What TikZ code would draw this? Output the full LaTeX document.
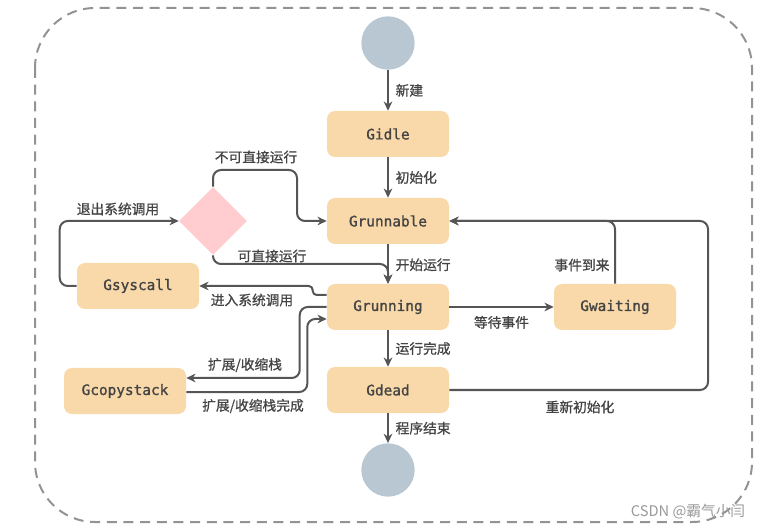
\documentclass[tikz,border=0pt]{standalone}
\usepackage{fontspec}
\newfontfamily\statefont[FakeBold=1.2]{DejaVu Sans Mono}
\newfontfamily\cjk[FakeBold=0.9]{Noto Sans CJK SC}
\newfontfamily\markfont{Noto Sans CJK SC}
\usepackage{xcolor}
\usetikzlibrary{arrows.meta,positioning,calc,shapes.geometric}
\definecolor{statefill}{HTML}{F9D9A9}
\definecolor{endfill}{HTML}{B9C7D2}
\definecolor{choicefill}{HTML}{FFCCCF}
\definecolor{linegray}{HTML}{555555}
\definecolor{textgray}{HTML}{444444}

\begin{document}
\begin{tikzpicture}[
  x=0.75pt,y=-0.75pt,
  state/.style={fill=statefill,rounded corners=6pt,minimum width=91.5pt,minimum height=34.5pt,
    font=\statefont\fontsize{10.8}{12}\selectfont,text=textgray,inner sep=0pt},
  endpt/.style={circle,fill=endfill,minimum size=40pt,inner sep=0pt},
  choice/.style={diamond,fill=choicefill,minimum width=51pt,minimum height=51pt,inner sep=0pt},
  lbl/.style={font=\cjk\fontsize{10.3}{12}\selectfont,text=textgray,inner sep=2pt},
  arr/.style={-{Stealth[length=7pt,width=6.5pt]},line width=1.5pt,draw=linegray,rounded corners=6pt},
]
\useasboundingbox (0,0) rectangle (770,530);
\draw[line width=1.5pt,draw=gray!85,dash pattern=on 7.5pt off 5pt,rounded corners=45pt]
  (35,8) rectangle (752,522);

\node[endpt] (start) at (388,43) {};
\node[state] (idle) at (388,134) {Gidle};
\node[state] (runnable) at (388,221) {Grunnable};
\node[state] (running) at (388,307) {Grunning};
\node[state] (dead) at (388,390) {Gdead};
\node[endpt] (stop) at (388,470) {};
\node[state] (waiting) at (615,307) {Gwaiting};
\node[state] (syscall) at (138,286) {Gsyscall};
\node[state] (copystack) at (125,391) {Gcopystack};
\node[choice] (check) at (213,221) {};

\coordinate (nodirect) at (297,170);
\coordinate (direct) at ($(runnable.south)!0.5!(running.north)$);
\coordinate (reinit) at (708,390);

\draw[arr] (start) -- node[lbl,right=3pt] {新建} (idle);
\draw[arr] (idle) -- node[lbl,right=3pt] {初始化} (runnable);
\draw[arr] (runnable) -- node[lbl,right=3pt,pos=0.52] {开始运行} (running);
\draw[arr] (running) -- node[lbl,right=3pt] {运行完成} (dead);
\draw[arr] (dead) -- node[lbl,right=3pt] {程序结束} (stop);

\draw[arr] (check.north) |- (nodirect) |- (runnable.west);
\node[lbl] at (256,157) {不可直接运行};
\draw[arr] (check.south) |- (direct) -- (running.north);
\node[lbl] at (272,256) {可直接运行};

\draw[arr] (syscall.west) -- ++(-17,0) |- (check.west);
\node[lbl] at (118,209) {退出系统调用};
\draw[arr,rounded corners=3pt] ([yshift=9pt]running.west) -- ++(-14,0) |- (syscall.east);
\node[lbl] at (252,300) {进入系统调用};

\draw[arr] (running.west) -- ++(-27,0) |- ([yshift=9.75pt]copystack.east);
\node[lbl] at (245,365) {扩展/收缩栈};
\draw[arr] ([yshift=-0.75pt]copystack.east) -- ++(121,0) |- ([yshift=-9pt]running.west);
\node[lbl] at (253,406) {扩展/收缩栈完成};

\draw[arr] (running) -- node[lbl,below=4pt] {等待事件} (waiting);
\draw[arr] (waiting.north) |- (runnable.east);
\node[lbl] at (582,265) {事件到来};
\draw[arr] (dead.east) -- (reinit) |- (runnable.east);
\node[lbl] at (580,407) {重新初始化};

\node[text=gray!80,font=\markfont\fontsize{11}{12}\selectfont] (mark) at (688,512)
  {CSDN @霸气小闫};
\end{tikzpicture}
\end{document}
